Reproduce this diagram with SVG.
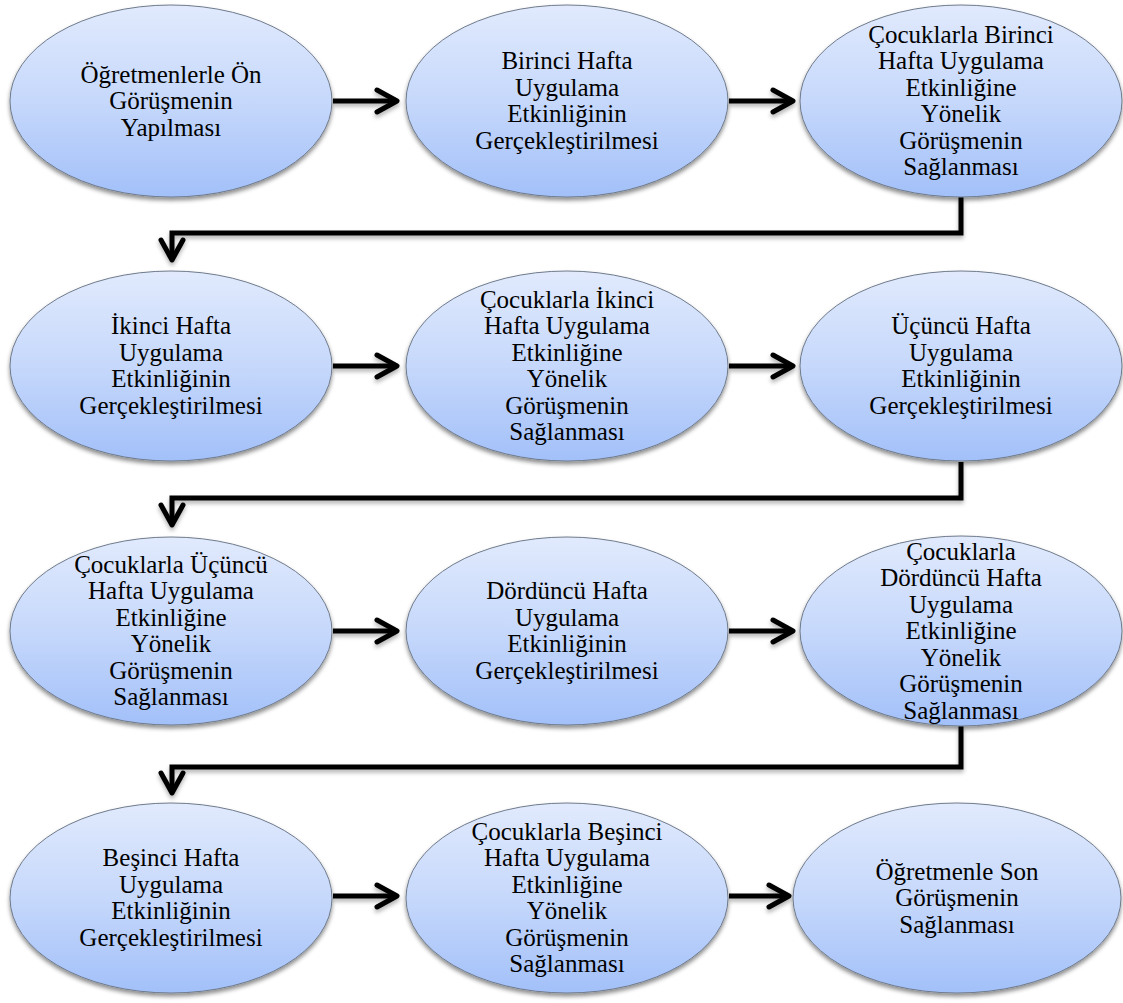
<svg xmlns="http://www.w3.org/2000/svg" width="1123" height="1003" viewBox="0 0 1123 1003">
  <defs>
    <linearGradient id="bubble" x1="0" y1="0" x2="0" y2="1">
      <stop offset="0" stop-color="#e1eafd"/>
      <stop offset="0.5" stop-color="#c6d8fb"/>
      <stop offset="1" stop-color="#a2c0f9"/>
    </linearGradient>
    <filter id="shade" x="-10%" y="-10%" width="120%" height="130%">
      <feDropShadow dx="0" dy="3" stdDeviation="2.2" flood-color="#000" flood-opacity="0.45"/>
    </filter>
    <filter id="lineShade" x="-5%" y="-20%" width="110%" height="160%">
      <feDropShadow dx="0" dy="3" stdDeviation="2" flood-color="#000" flood-opacity="0.3"/>
    </filter>
    <marker id="chevron" viewBox="-25 -15 30 30" refX="0" refY="0" markerWidth="30" markerHeight="30" markerUnits="userSpaceOnUse" orient="auto" overflow="visible">
      <path d="M-20,-11 L0,0 L-20,11" fill="none" stroke="#000" stroke-width="5" stroke-linecap="round" stroke-linejoin="round"/>
    </marker>
  </defs>
  <style>
    .node ellipse { fill: url(#bubble); stroke: #6f7b8c; stroke-width: 1; filter: url(#shade); }
    text { font-family: Liberation Serif, Times New Roman, Times, serif; font-size: 25px; fill: #000; text-anchor: middle; }
    .link { fill: none; stroke: #000; stroke-width: 5; stroke-linejoin: miter; marker-end: url(#chevron); }
  </style>

  <rect width="1123" height="1003" fill="#fff"/>

  <!-- connectors -->
  <g id="connectors" filter="url(#lineShade)">
    <path class="link" d="M333,101 H397"/>
    <path class="link" d="M729,101 H793"/>
    <path class="link" d="M961,197 V233 H172 V260"/>
    <path class="link" d="M333,366 H397"/>
    <path class="link" d="M729,366 H793"/>
    <path class="link" d="M961,462 V498 H172 V525"/>
    <path class="link" d="M333,631 H397"/>
    <path class="link" d="M729,631 H793"/>
    <path class="link" d="M961,726 V767 H172 V793"/>
    <path class="link" d="M333,896 H397"/>
    <path class="link" d="M729,896 H789"/>
  </g>

  <!-- row 1 -->
  <g id="n1" class="node">
    <ellipse cx="171" cy="101" rx="161" ry="96"/>
    <text font-family="Liberation Serif" y="82.5"><tspan x="171">Öğretmenlerle Ön</tspan><tspan x="171" dy="26.5">Görüşmenin</tspan><tspan x="171" dy="26.5">Yapılması</tspan></text>
  </g>
  <g id="n2" class="node">
    <ellipse cx="567" cy="101" rx="161" ry="96"/>
    <text font-family="Liberation Serif" y="69.25"><tspan x="567">Birinci Hafta</tspan><tspan x="567" dy="26.5">Uygulama</tspan><tspan x="567" dy="26.5">Etkinliğinin</tspan><tspan x="567" dy="26.5">Gerçekleştirilmesi</tspan></text>
  </g>
  <g id="n3" class="node">
    <ellipse cx="961" cy="101" rx="161" ry="96"/>
    <text font-family="Liberation Serif" y="42.75"><tspan x="961">Çocuklarla Birinci</tspan><tspan x="961" dy="26.5">Hafta Uygulama</tspan><tspan x="961" dy="26.5">Etkinliğine</tspan><tspan x="961" dy="26.5">Yönelik</tspan><tspan x="961" dy="26.5">Görüşmenin</tspan><tspan x="961" dy="26.5">Sağlanması</tspan></text>
  </g>

  <!-- row 2 -->
  <g id="n4" class="node">
    <ellipse cx="171" cy="366" rx="161" ry="95"/>
    <text font-family="Liberation Serif" y="334.25"><tspan x="171">İkinci Hafta</tspan><tspan x="171" dy="26.5">Uygulama</tspan><tspan x="171" dy="26.5">Etkinliğinin</tspan><tspan x="171" dy="26.5">Gerçekleştirilmesi</tspan></text>
  </g>
  <g id="n5" class="node">
    <ellipse cx="567" cy="366" rx="161" ry="95"/>
    <text font-family="Liberation Serif" y="307.75"><tspan x="567">Çocuklarla İkinci</tspan><tspan x="567" dy="26.5">Hafta Uygulama</tspan><tspan x="567" dy="26.5">Etkinliğine</tspan><tspan x="567" dy="26.5">Yönelik</tspan><tspan x="567" dy="26.5">Görüşmenin</tspan><tspan x="567" dy="26.5">Sağlanması</tspan></text>
  </g>
  <g id="n6" class="node">
    <ellipse cx="961" cy="366" rx="161" ry="95"/>
    <text font-family="Liberation Serif" y="334.25"><tspan x="961">Üçüncü Hafta</tspan><tspan x="961" dy="26.5">Uygulama</tspan><tspan x="961" dy="26.5">Etkinliğinin</tspan><tspan x="961" dy="26.5">Gerçekleştirilmesi</tspan></text>
  </g>

  <!-- row 3 -->
  <g id="n7" class="node">
    <ellipse cx="171" cy="631" rx="161" ry="94"/>
    <text font-family="Liberation Serif" y="572.75"><tspan x="171">Çocuklarla Üçüncü</tspan><tspan x="171" dy="26.5">Hafta Uygulama</tspan><tspan x="171" dy="26.5">Etkinliğine</tspan><tspan x="171" dy="26.5">Yönelik</tspan><tspan x="171" dy="26.5">Görüşmenin</tspan><tspan x="171" dy="26.5">Sağlanması</tspan></text>
  </g>
  <g id="n8" class="node">
    <ellipse cx="567" cy="631" rx="161" ry="94"/>
    <text font-family="Liberation Serif" y="599.25"><tspan x="567">Dördüncü Hafta</tspan><tspan x="567" dy="26.5">Uygulama</tspan><tspan x="567" dy="26.5">Etkinliğinin</tspan><tspan x="567" dy="26.5">Gerçekleştirilmesi</tspan></text>
  </g>
  <g id="n9" class="node">
    <ellipse cx="961" cy="631" rx="161" ry="95"/>
    <text font-family="Liberation Serif" y="559.5"><tspan x="961">Çocuklarla</tspan><tspan x="961" dy="26.5">Dördüncü Hafta</tspan><tspan x="961" dy="26.5">Uygulama</tspan><tspan x="961" dy="26.5">Etkinliğine</tspan><tspan x="961" dy="26.5">Yönelik</tspan><tspan x="961" dy="26.5">Görüşmenin</tspan><tspan x="961" dy="26.5">Sağlanması</tspan></text>
  </g>

  <!-- row 4 -->
  <g id="n10" class="node">
    <ellipse cx="171" cy="898" rx="161" ry="95"/>
    <text font-family="Liberation Serif" y="866.25"><tspan x="171">Beşinci Hafta</tspan><tspan x="171" dy="26.5">Uygulama</tspan><tspan x="171" dy="26.5">Etkinliğinin</tspan><tspan x="171" dy="26.5">Gerçekleştirilmesi</tspan></text>
  </g>
  <g id="n11" class="node">
    <ellipse cx="567" cy="898" rx="161" ry="95"/>
    <text font-family="Liberation Serif" y="839.75"><tspan x="567">Çocuklarla Beşinci</tspan><tspan x="567" dy="26.5">Hafta Uygulama</tspan><tspan x="567" dy="26.5">Etkinliğine</tspan><tspan x="567" dy="26.5">Yönelik</tspan><tspan x="567" dy="26.5">Görüşmenin</tspan><tspan x="567" dy="26.5">Sağlanması</tspan></text>
  </g>
  <g id="n12" class="node">
    <ellipse cx="957" cy="898" rx="164" ry="95"/>
    <text font-family="Liberation Serif" y="879.5"><tspan x="957">Öğretmenle Son</tspan><tspan x="957" dy="26.5">Görüşmenin</tspan><tspan x="957" dy="26.5">Sağlanması</tspan></text>
  </g>
</svg>
